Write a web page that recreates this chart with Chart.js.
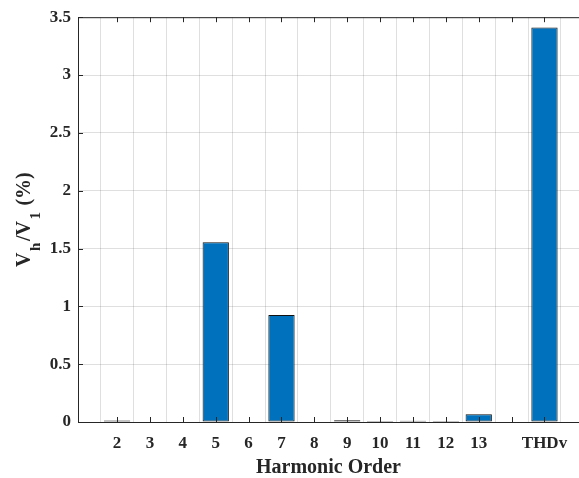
<!DOCTYPE html>
<html>
<head>
<meta charset="utf-8">
<title>Harmonic spectrum</title>
<script src="https://cdn.jsdelivr.net/npm/chart.js@4.4.1/dist/chart.umd.min.js"></script>
<style>
    html, body { margin: 0; padding: 0; background: #fff; }
    #wrap { width: 579px; height: 478px; }
</style>
</head>
<body>
<div id="wrap"><canvas id="harmonicChart" width="579" height="478"></canvas></div>
<script>
// Data
const harmonicOrders = [2, 3, 4, 5, 6, 7, 8, 9, 10, 11, 12, 13];
const harmonicValues = [0.012, 0.004, 0.004, 1.555, 0.005, 0.926, 0.004, 0.016, 0.001, 0.011, 0.001, 0.068];
const thdLabel = 'THDv';
const thdValue = 3.412;
const yTicks = [0, 0.5, 1, 1.5, 2, 2.5, 3, 3.5];
const xTitle = 'Harmonic Order';
const yTitleParts = [
    { text: 'V', sub: false },
    { text: 'h', sub: true },
    { text: '/V', sub: false },
    { text: '1', sub: true },
    { text: ' (%)', sub: false }
];

// THDv sits one empty slot after the last harmonic
const thdPos = harmonicOrders[harmonicOrders.length - 1] + 2;
const xTickValues = [];
for (let v = harmonicOrders[0]; v <= thdPos; v++) xTickValues.push(v);

const points = harmonicOrders.map((h, i) => ({ x: h, y: harmonicValues[i] }));
points.push({ x: thdPos, y: thdValue });

const FONT = "'Liberation Serif', 'Times New Roman', serif";
const INK = '#262626';
const GRID = 'rgba(38, 38, 38, 0.15)';

function xLabel(v) {
    if (v === thdPos) return thdLabel;
    return harmonicOrders.includes(v) ? String(v) : '';
}

// MATLAB-like box: top edge, inward ticks, subscripted y label
const matlabFrame = {
    id: 'matlabFrame',
    afterDatasetsDraw(chart) {
        const { ctx, chartArea: a, scales } = chart;
        ctx.save();
        ctx.strokeStyle = INK;
        ctx.lineWidth = 1;
        ctx.beginPath();
        ctx.moveTo(a.left, a.top + 0.5);
        ctx.lineTo(a.right, a.top + 0.5);
        xTickValues.forEach(v => {
            const px = Math.round(scales.x.getPixelForValue(v)) + 0.5;
            ctx.moveTo(px, a.top);
            ctx.lineTo(px, a.top + 5);
            ctx.moveTo(px, a.bottom);
            ctx.lineTo(px, a.bottom - 5);
        });
        yTicks.forEach(v => {
            const py = Math.round(scales.y.getPixelForValue(v)) + 0.5;
            ctx.moveTo(a.left, py);
            ctx.lineTo(a.left + 5, py);
        });
        ctx.stroke();
        ctx.restore();
    },
    afterDraw(chart) {
        const { ctx, chartArea: a } = chart;
        const mainFont = 'bold 20px ' + FONT;
        const subFont = 'bold 15px ' + FONT;
        ctx.save();
        let total = 0;
        yTitleParts.forEach(p => {
            ctx.font = p.sub ? subFont : mainFont;
            total += ctx.measureText(p.text).width + (p.sub ? 3 : 0);
        });
        ctx.translate(23.5, (a.top + a.bottom) / 2);
        ctx.rotate(-Math.PI / 2);
        ctx.fillStyle = INK;
        ctx.textBaseline = 'alphabetic';
        ctx.textAlign = 'left';
        let x = -total / 2;
        yTitleParts.forEach(p => {
            ctx.font = p.sub ? subFont : mainFont;
            if (p.sub) x += 1.5;
            ctx.fillText(p.text, x, p.sub ? 16.5 : 6.5);
            x += ctx.measureText(p.text).width + (p.sub ? 1.5 : 0);
        });
        ctx.restore();
    }
};

new Chart(document.getElementById('harmonicChart'), {
    type: 'bar',
    data: {
        datasets: [{
            data: points,
            backgroundColor: '#0072BD',
            borderColor: '#111111',
            borderWidth: 1,
            borderSkipped: false,
            categoryPercentage: 1,
            barPercentage: 0.8
        }]
    },
    options: {
        responsive: false,
        devicePixelRatio: 1,
        animation: false,
        layout: { padding: { top: 14, right: 0, bottom: 0, left: 0 } },
        plugins: {
            legend: { display: false },
            tooltip: { enabled: false }
        },
        scales: {
            x: {
                type: 'linear',
                offset: false,
                min: 0.81,
                max: 16.05,
                afterBuildTicks: s => { s.ticks = xTickValues.map(v => ({ value: v })); },
                afterFit: s => { s.height = 56; },
                ticks: {
                    callback: v => xLabel(v),
                    autoSkip: false,
                    maxRotation: 0,
                    padding: 11,
                    color: INK,
                    font: { family: FONT, size: 17, weight: 'bold' }
                },
                grid: { color: GRID, drawTicks: false },
                border: { color: INK, width: 1 },
                title: {
                    display: true,
                    text: xTitle,
                    color: INK,
                    padding: { top: 0, bottom: -2 },
                    font: { family: FONT, size: 20, weight: 'bold' }
                }
            },
            y: {
                min: 0,
                max: 3.5,
                afterBuildTicks: s => { s.ticks = yTicks.map(v => ({ value: v })); },
                afterFit: s => { s.width = 78; },
                ticks: {
                    callback: v => String(v),
                    padding: 7,
                    color: INK,
                    font: { family: FONT, size: 17, weight: 'bold' }
                },
                grid: { color: GRID, drawTicks: false },
                border: { color: INK, width: 1 }
            }
        }
    },
    plugins: [matlabFrame]
});
</script>
</body>
</html>
